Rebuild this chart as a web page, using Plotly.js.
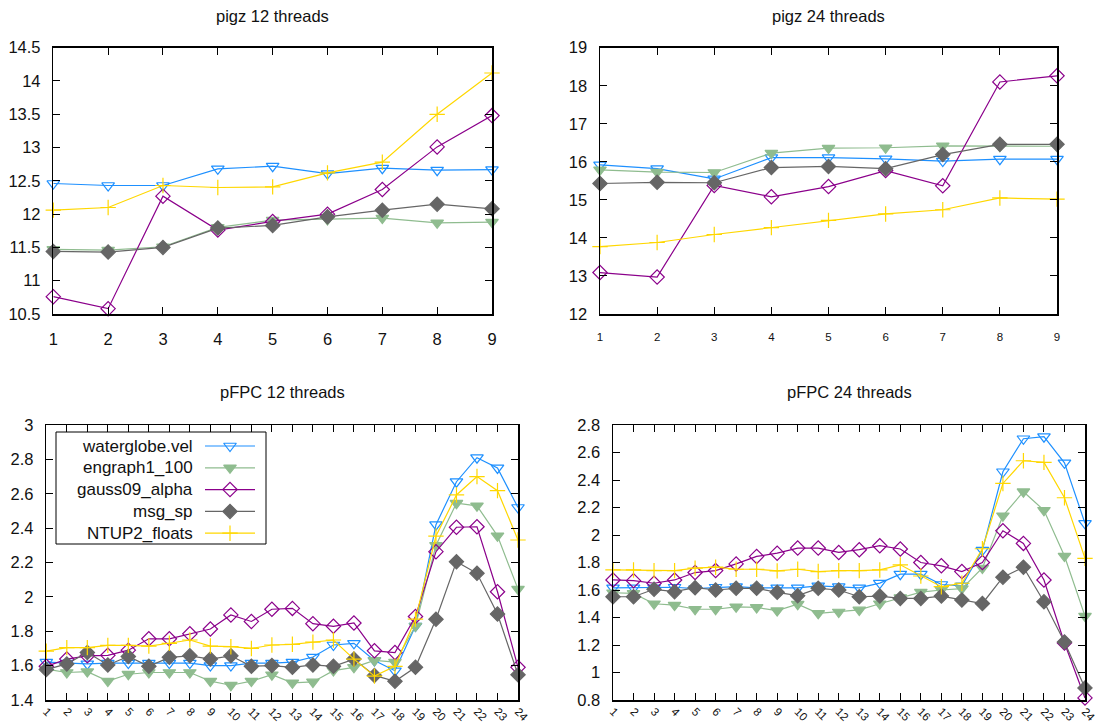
<!DOCTYPE html>
<html>
<head>
<meta charset="utf-8">
<script src="https://cdn.plot.ly/plotly-3.0.1.min.js"></script>
<style>
  html, body { margin: 0; padding: 0; background: #fff; }
  #chart { width: 1101px; height: 724px; }
</style>
</head>
<body>
<div id="chart"></div>
<script>
// ---- data -------------------------------------------------------------
const seriesNames = ["waterglobe.vel", "engraph1_100", "gauss09_alpha", "msg_sp", "NTUP2_floats"];

const pigzX = [1, 2, 3, 4, 5, 6, 7, 8, 9];
const pfpcX = [1, 2, 3, 4, 5, 6, 7, 8, 9, 10, 11, 12, 13, 14, 15, 16, 17, 18, 19, 20, 21, 22, 23, 24];

// pigz, 12 threads
const pigz12_waterglobe = [12.46, 12.43, 12.43, 12.68, 12.72, 12.61, 12.69, 12.66, 12.67];
const pigz12_engraph    = [11.47, 11.46, 11.51, 11.80, 11.91, 11.92, 11.94, 11.87, 11.88];
const pigz12_gauss      = [10.76, 10.58, 12.27, 11.76, 11.89, 12.00, 12.37, 13.01, 13.48];
const pigz12_msg        = [11.44, 11.43, 11.50, 11.79, 11.83, 11.96, 12.06, 12.15, 12.08];
const pigz12_ntup       = [12.06, 12.10, 12.43, 12.40, 12.41, 12.62, 12.78, 13.50, 14.12];

// pigz, 24 threads
const pigz24_waterglobe = [15.92, 15.82, 15.55, 16.11, 16.11, 16.08, 16.02, 16.07, 16.07];
const pigz24_engraph    = [15.79, 15.73, 15.72, 16.23, 16.36, 16.37, 16.42, 16.41, 16.41];
const pigz24_gauss      = [13.09, 12.97, 15.38, 15.08, 15.35, 15.77, 15.37, 18.10, 18.26];
const pigz24_msg        = [15.43, 15.46, 15.45, 15.85, 15.88, 15.82, 16.19, 16.46, 16.46];
const pigz24_ntup       = [13.77, 13.88, 14.09, 14.27, 14.46, 14.63, 14.74, 15.05, 15.02];

// pFPC, 12 threads
const pfpc12_waterglobe = [1.62, 1.615, 1.61, 1.615, 1.615, 1.615, 1.615, 1.615, 1.60, 1.60, 1.615, 1.615,
                           1.62, 1.65, 1.72, 1.73, 1.63, 1.57, 1.83, 2.42, 2.67, 2.81, 2.75, 2.52];
const pfpc12_engraph    = [1.58, 1.56, 1.565, 1.51, 1.55, 1.56, 1.56, 1.56, 1.51, 1.486, 1.51, 1.547,
                           1.50, 1.505, 1.571, 1.59, 1.63, 1.62, 1.83, 2.30, 2.545, 2.53, 2.355, 2.045];
const pfpc12_gauss      = [1.596, 1.638, 1.657, 1.66, 1.69, 1.756, 1.756, 1.785, 1.813, 1.895, 1.857, 1.928,
                           1.933, 1.844, 1.829, 1.848, 1.686, 1.676, 1.886, 2.263, 2.405, 2.408, 2.03, 1.59];
const pfpc12_msg        = [1.577, 1.61, 1.676, 1.604, 1.653, 1.596, 1.648, 1.657, 1.638, 1.657, 1.596, 1.60,
                           1.59, 1.604, 1.596, 1.638, 1.543, 1.509, 1.59, 1.87, 2.205, 2.137, 1.90, 1.547];
const pfpc12_ntup       = [1.684, 1.705, 1.705, 1.718, 1.718, 1.714, 1.73, 1.749, 1.714, 1.71, 1.70, 1.72,
                           1.724, 1.737, 1.749, 1.638, 1.539, 1.596, 1.87, 2.354, 2.593, 2.70, 2.618, 2.331];

// pFPC, 24 threads
const pfpc24_waterglobe = [1.615, 1.615, 1.615, 1.62, 1.61, 1.62, 1.625, 1.615, 1.615, 1.615, 1.63, 1.625,
                           1.615, 1.65, 1.715, 1.715, 1.64, 1.63, 1.89, 2.46, 2.70, 2.715, 2.525, 2.085];
const pfpc24_engraph    = [1.58, 1.575, 1.50, 1.49, 1.46, 1.46, 1.478, 1.473, 1.45, 1.497, 1.43, 1.44,
                           1.455, 1.50, 1.545, 1.585, 1.60, 1.61, 1.76, 2.14, 2.315, 2.18, 1.847, 1.41];
const pfpc24_gauss      = [1.673, 1.668, 1.649, 1.673, 1.727, 1.741, 1.79, 1.844, 1.868, 1.905, 1.905, 1.873,
                           1.893, 1.922, 1.898, 1.80, 1.776, 1.734, 1.80, 2.031, 1.939, 1.673, 1.215, 0.815];
const pfpc24_msg        = [1.551, 1.551, 1.605, 1.588, 1.617, 1.60, 1.612, 1.612, 1.583, 1.559, 1.612, 1.60,
                           1.551, 1.556, 1.539, 1.539, 1.556, 1.527, 1.502, 1.693, 1.766, 1.515, 1.222, 0.888];
const pfpc24_ntup       = [1.746, 1.746, 1.741, 1.741, 1.759, 1.766, 1.751, 1.751, 1.739, 1.751, 1.734, 1.741,
                           1.741, 1.746, 1.783, 1.702, 1.624, 1.649, 1.90, 2.375, 2.54, 2.528, 2.271, 1.83];

const panelTitles = ["pigz 12 threads", "pigz 24 threads", "pFPC 12 threads", "pFPC 24 threads"];

// ---- styling ----------------------------------------------------------
const W = 1101, H = 724;
const FONT = "Liberation Sans, Arial, sans-serif";
const styles = [
  { color: "#1e90ff", symbol: "triangle-down-open" },
  { color: "#8fbc8f", symbol: "triangle-down" },
  { color: "#8b008b", symbol: "diamond-open" },
  { color: "#666666", symbol: "diamond" },
  { color: "#ffd700", symbol: "cross-thin-open" }
];
const MARKER_SIZE = 11;
const LINE_W = 1.2;

function marker(i) {
  return { symbol: styles[i].symbol, size: MARKER_SIZE, color: styles[i].color,
           line: { color: styles[i].color, width: 1.2 } };
}

const panels = [
  { xs: pigzX, ys: [pigz12_waterglobe, pigz12_engraph, pigz12_gauss, pigz12_msg, pigz12_ntup], xa: "x",  ya: "y"  },
  { xs: pigzX, ys: [pigz24_waterglobe, pigz24_engraph, pigz24_gauss, pigz24_msg, pigz24_ntup], xa: "x2", ya: "y2" },
  { xs: pfpcX, ys: [pfpc12_waterglobe, pfpc12_engraph, pfpc12_gauss, pfpc12_msg, pfpc12_ntup], xa: "x3", ya: "y3" },
  { xs: pfpcX, ys: [pfpc24_waterglobe, pfpc24_engraph, pfpc24_gauss, pfpc24_msg, pfpc24_ntup], xa: "x4", ya: "y4" }
];

const traces = [];
panels.forEach(p => {
  p.ys.forEach((vals, i) => {
    traces.push({
      type: "scatter", mode: "lines+markers",
      x: p.xs, y: vals, xaxis: p.xa, yaxis: p.ya,
      name: seriesNames[i], showlegend: false, cliponaxis: false,
      line: { color: styles[i].color, width: LINE_W },
      marker: marker(i),
      hoverinfo: "x+y+name"
    });
  });
});

// key box inside the pFPC 12 panel (pixel geometry on a full-page helper axis)
const key = { left: 56, top: 432, right: 266, bottom: 544, textRight: 195,
              lineX0: 205, lineX1: 255, firstRow: 446, rowStep: 21.8 };
seriesNames.forEach((name, i) => {
  const ry = key.firstRow + i * key.rowStep;
  traces.push({
    type: "scatter", mode: "lines+markers",
    x: [key.lineX0, (key.lineX0 + key.lineX1) / 2, key.lineX1], y: [ry, ry, ry],
    xaxis: "x5", yaxis: "y5", showlegend: false, hoverinfo: "skip", cliponaxis: false,
    line: { color: styles[i].color, width: LINE_W },
    marker: Object.assign(marker(i), { opacity: [0, 1, 0] })
  });
});

// ---- axes -------------------------------------------------------------
function px(x) { return x / W; }
function py(y) { return 1 - y / H; }

function axisBase(extra) {
  return Object.assign({
    showline: true, linecolor: "#000", linewidth: 1.5, mirror: "ticks",
    ticks: "inside", ticklen: 7, tickwidth: 1, tickcolor: "#000",
    showgrid: false, zeroline: false, fixedrange: true,
    tickfont: { family: FONT, size: 16.5, color: "#111" }
  }, extra);
}

const boxes = [
  { l: 53.3, r: 492,  t: 47.7, b: 314 },
  { l: 600,  r: 1057, t: 47.7, b: 314 },
  { l: 46.3, r: 518,  t: 425,  b: 700 },
  { l: 613,  r: 1085, t: 425,  b: 700 }
];

const layout = {
  width: W, height: H,
  margin: { l: 0, r: 0, t: 0, b: 0 },
  paper_bgcolor: "#fff", plot_bgcolor: "rgba(0,0,0,0)",
  showlegend: false,
  font: { family: FONT, color: "#111" },

  xaxis:  axisBase({ domain: [px(boxes[0].l), px(boxes[0].r)], anchor: "y",  range: [1, 9], tick0: 1, dtick: 1, ticklabelstandoff: 10 }),
  yaxis:  axisBase({ domain: [py(boxes[0].b), py(boxes[0].t)], anchor: "x",  range: [10.5, 14.5], tick0: 10.5, dtick: 0.5, ticklabelstandoff: 8 }),
  xaxis2: axisBase({ domain: [px(boxes[1].l), px(boxes[1].r)], anchor: "y2", range: [1, 9], tick0: 1, dtick: 1, ticklabelstandoff: 12,
                     tickfont: { family: FONT, size: 11.5, color: "#111" } }),
  yaxis2: axisBase({ domain: [py(boxes[1].b), py(boxes[1].t)], anchor: "x2", range: [12, 19], tick0: 12, dtick: 1, ticklabelstandoff: 8 }),
  xaxis3: axisBase({ domain: [px(boxes[2].l), px(boxes[2].r)], anchor: "y3", range: [1, 24], tick0: 1, dtick: 1, tickangle: 45, ticklabelstandoff: -1,
                     tickfont: { family: FONT, size: 11.5, color: "#111" } }),
  yaxis3: axisBase({ domain: [py(boxes[2].b), py(boxes[2].t)], anchor: "x3", range: [1.4, 3], tick0: 1.4, dtick: 0.2, ticklabelstandoff: 8 }),
  xaxis4: axisBase({ domain: [px(boxes[3].l), px(boxes[3].r)], anchor: "y4", range: [1, 24], tick0: 1, dtick: 1, tickangle: 45, ticklabelstandoff: -1,
                     tickfont: { family: FONT, size: 11.5, color: "#111" } }),
  yaxis4: axisBase({ domain: [py(boxes[3].b), py(boxes[3].t)], anchor: "x4", range: [0.8, 2.8], tick0: 0.8, dtick: 0.2, ticklabelstandoff: 8 }),

  // full-page helper axes used only for the key samples
  xaxis5: { domain: [0, 1], anchor: "y5", range: [0, W], visible: false, fixedrange: true },
  yaxis5: { domain: [0, 1], anchor: "x5", range: [H, 0], visible: false, fixedrange: true },

  shapes: [
    { type: "rect", xref: "paper", yref: "paper",
      x0: px(key.left), x1: px(key.right), y0: py(key.bottom), y1: py(key.top),
      line: { color: "#000", width: 1 }, fillcolor: "rgba(0,0,0,0)" }
  ],

  annotations: []
};

// panel titles
const titleY = [16, 16, 392, 392];
boxes.forEach((b, i) => {
  layout.annotations.push({
    xref: "paper", yref: "paper", x: px((b.l + b.r) / 2), y: py(titleY[i]),
    xanchor: "center", yanchor: "middle", showarrow: false,
    text: panelTitles[i], font: { family: FONT, size: 16.5, color: "#111" }
  });
});

// key labels
seriesNames.forEach((name, i) => {
  layout.annotations.push({
    xref: "paper", yref: "paper", x: px(key.textRight), y: py(key.firstRow + i * key.rowStep),
    xanchor: "right", yanchor: "middle", showarrow: false,
    text: name, font: { family: FONT, size: 17, color: "#111" }
  });
});

Plotly.newPlot("chart", traces, layout, { staticPlot: true, displayModeBar: false });
</script>
</body>
</html>
